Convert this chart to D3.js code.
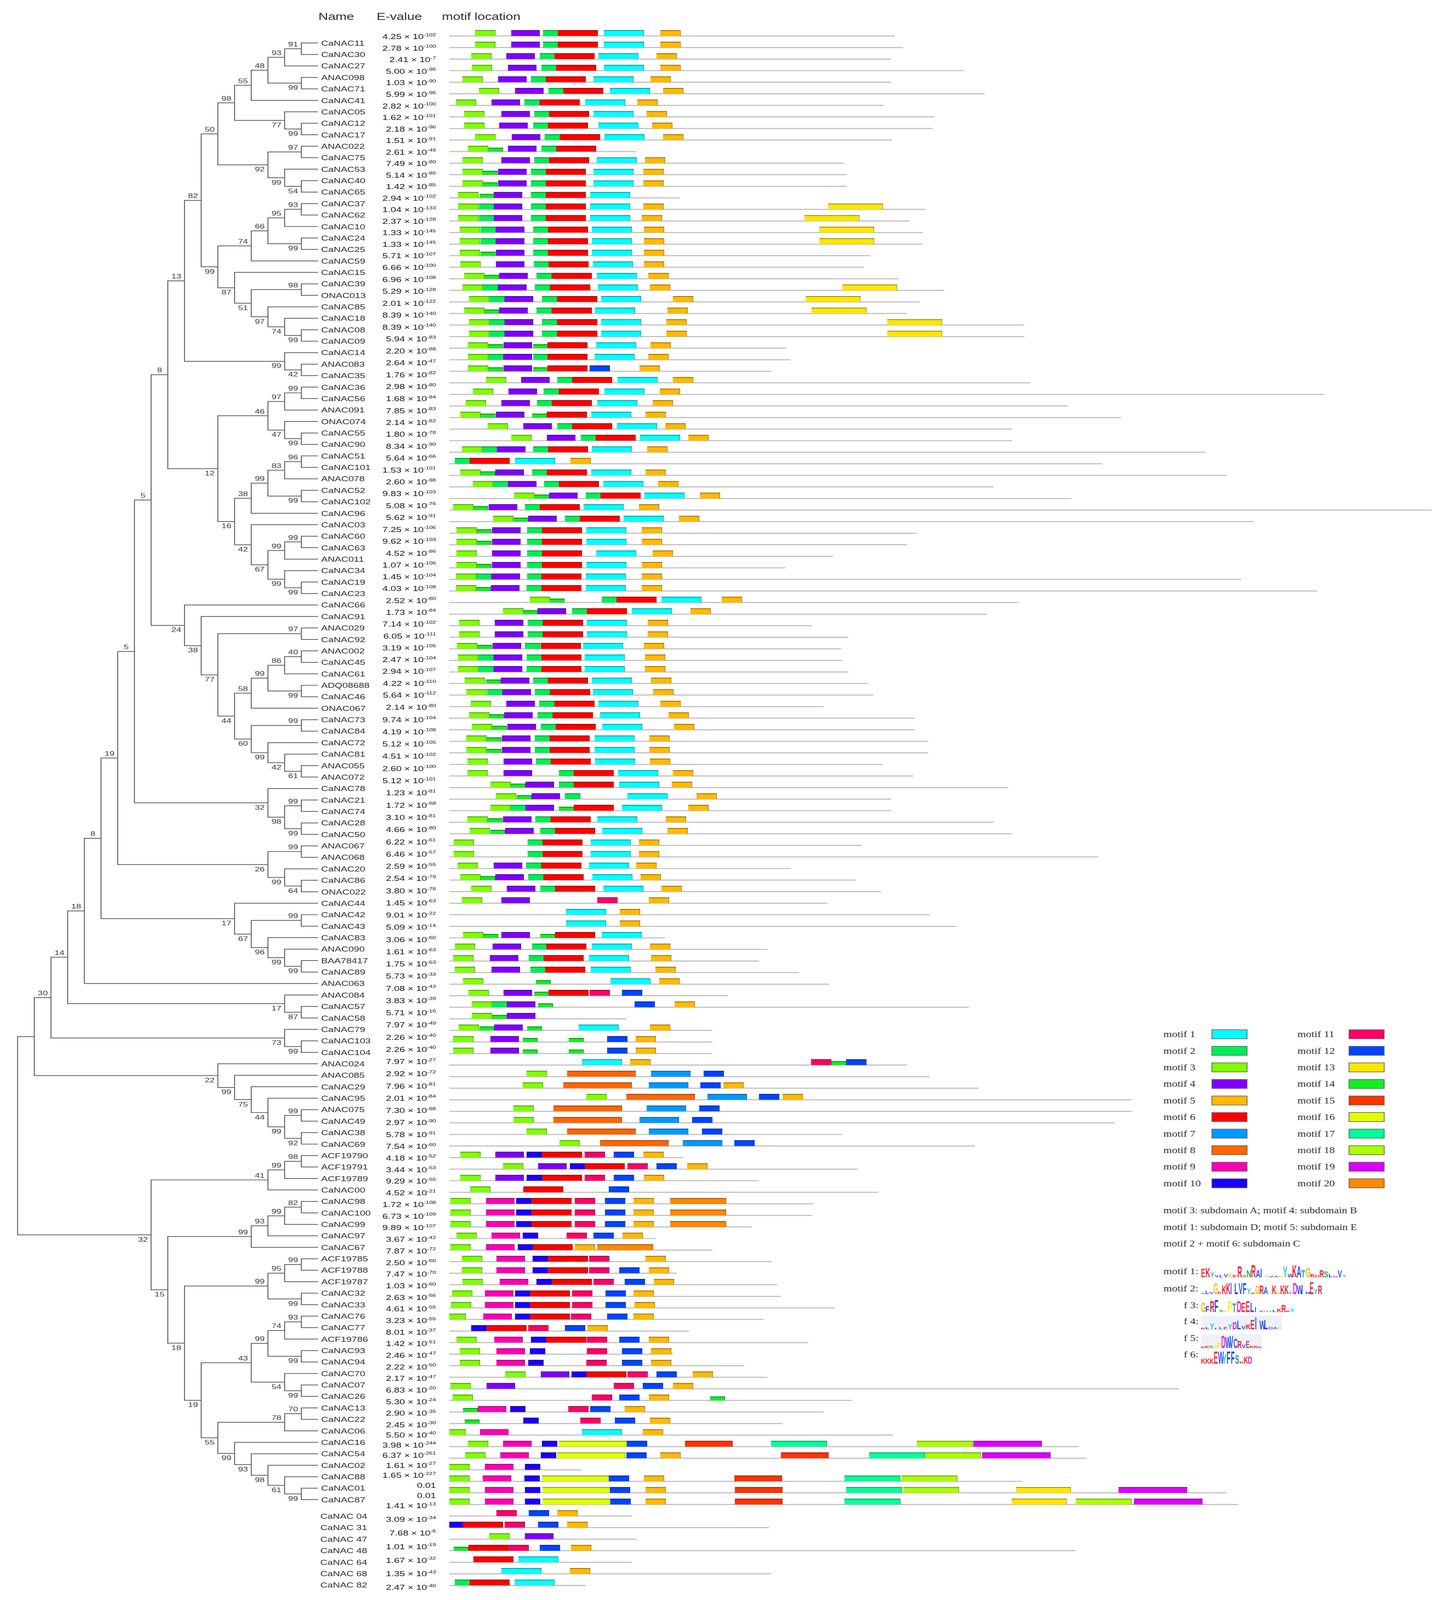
<!DOCTYPE html>
<html><head><meta charset="utf-8">
<style>html,body{margin:0;padding:0;background:#fff;overflow:hidden}svg{display:block}</style>
<script src="https://cdn.jsdelivr.net/npm/d3@7/dist/d3.min.js"></script>
</head><body><svg id="c"></svg>
<script>
// ---------- DATA ----------
const rowNames = ["CaNAC11","CaNAC30","CaNAC27","ANAC098","CaNAC71","CaNAC41","CaNAC05","CaNAC12","CaNAC17","ANAC022","CaNAC75","CaNAC53","CaNAC40","CaNAC65","CaNAC37","CaNAC62","CaNAC10","CaNAC24","CaNAC25","CaNAC59","CaNAC15","CaNAC39","ONAC013","CaNAC85","CaNAC18","CaNAC08","CaNAC09","CaNAC14","ANAC083","CaNAC35","CaNAC36","CaNAC56","ANAC091","ONAC074","CaNAC55","CaNAC90","CaNAC51","CaNAC101","ANAC078","CaNAC52","CaNAC102","CaNAC96","CaNAC03","CaNAC60","CaNAC63","ANAC011","CaNAC34","CaNAC19","CaNAC23","CaNAC66","CaNAC91","ANAC029","CaNAC92","ANAC002","CaNAC45","CaNAC61","ADQ08688","CaNAC46","ONAC067","CaNAC73","CaNAC84","CaNAC72","CaNAC81","ANAC055","ANAC072","CaNAC78","CaNAC21","CaNAC74","CaNAC28","CaNAC50","ANAC067","ANAC068","CaNAC20","CaNAC86","ONAC022","CaNAC44","CaNAC42","CaNAC43","CaNAC83","ANAC090","BAA78417","CaNAC89","ANAC063","ANAC084","CaNAC57","CaNAC58","CaNAC79","CaNAC103","CaNAC104","ANAC024","ANAC085","CaNAC29","CaNAC95","ANAC075","CaNAC49","CaNAC38","CaNAC69","ACF19790","ACF19791","ACF19789","CaNAC00","CaNAC98","CaNAC100","CaNAC99","CaNAC97","CaNAC67","ACF19785","ACF19788","ACF19787","CaNAC32","CaNAC33","CaNAC76","CaNAC77","ACF19786","CaNAC93","CaNAC94","CaNAC70","CaNAC07","CaNAC26","CaNAC13","CaNAC22","CaNAC06","CaNAC16","CaNAC54","CaNAC02","CaNAC88","CaNAC01","CaNAC87","CaNAC 04","CaNAC 31","CaNAC 47","CaNAC 48","CaNAC 64","CaNAC 68","CaNAC 82"];
const untreedNames = rowNames.slice(128);

const lineLengths = [813,828,806,939,806,977,792,885,882,808,340,720,725,725,420,869,840,864,864,768,756,820,903,858,835,1049,1049,615,623,588,1060,1596,1128,1225,1027,1027,1380,1191,1418,993,1135,1792,1468,853,835,700,613,1445,1583,1038,981,662,728,715,717,728,763,774,683,849,849,874,874,790,846,1020,806,806,993,1027,752,1184,623,742,788,690,876,925,393,580,565,637,693,508,948,323,480,480,480,835,876,966,1245,1245,1214,717,959,427,745,565,783,665,662,552,377,480,588,415,598,605,703,573,437,655,408,538,580,1331,734,683,608,809,1148,1162,241,1046,1418,1439,334,583,342,1143,333,587,249];

// motif id -> length and colour
const motifLengths = [0,73,28,37,52,37,73,72,125,52,28,37,37,100,27,87,124,102,102,125,102];
const motifColors = [null,"#00FFFF","#00EE55","#7FFF00","#8000FF","#FFB900","#FF0000","#0099FF","#FF6600","#FF00B4","#1A00FF","#FF0066","#0044FF","#FFE600","#11EE22","#FF3300","#DFFF00","#00FF99","#AAFF00","#DD00FF","#FF8800"];

// per row: [motif id, start, optional length]
const motifHits = [
[[3,47],[4,113],[2,171],[6,198],[1,282],[5,385]],
[[3,47],[4,113],[2,171],[6,198],[1,282],[5,385]],
[[3,40],[4,104],[2,165],[6,192],[1,272],[5,378]],
[[3,41],[4,107],[2,168],[6,195],[1,282],[5,385]],
[[3,24],[4,89],[2,149],[6,176],[1,263],[5,367]],
[[3,54],[4,120],[2,181],[6,208],[1,293],[5,390]],
[[3,12],[4,77],[2,137],[6,165],[1,248],[5,343]],
[[3,27],[4,95],[2,155],[6,182],[1,263],[5,360]],
[[3,27],[4,91],[2,153],[6,180],[1,272],[5,370]],
[[3,47],[4,114],[2,174],[6,202],[1,283],[5,390]],
[[3,34],[14,71],[4,107],[2,168],[6,195]],
[[3,24],[4,95],[2,155],[6,182],[1,269],[5,357]],
[[3,24],[14,61],[4,89],[2,149],[6,176],[1,263],[5,354]],
[[3,24],[14,61],[4,89],[2,149],[6,176],[1,263],[5,354]],
[[3,16],[14,55],[4,81],[2,149],[6,176],[1,257]],
[[3,16],[2,54],[4,81],[2,149],[6,176],[1,257],[5,354],[13,691]],
[[3,16],[2,54],[4,81],[2,149],[6,176],[1,257],[5,351],[13,648]],
[[3,19],[2,57],[4,85],[2,153],[6,180],[1,260],[5,355],[13,675]],
[[3,19],[2,57],[4,85],[2,153],[6,180],[1,260],[5,355],[13,675]],
[[3,19],[14,57],[4,85],[2,153],[6,180],[1,260],[5,355]],
[[3,20],[4,85],[2,154],[6,181],[1,262],[5,355]],
[[3,27],[14,64],[4,91],[2,159],[6,187],[1,269],[5,363]],
[[3,24],[2,61],[4,89],[2,156],[6,184],[1,271],[5,366],[13,717]],
[[3,36],[2,73],[4,101],[2,169],[6,197],[1,277],[5,408],[13,650]],
[[3,27],[14,64],[4,91],[2,159],[6,187],[1,266],[5,398],[13,661]],
[[3,36],[2,73],[4,101],[2,169],[6,197],[1,277],[5,396],[13,799]],
[[3,36],[2,73],[4,101],[2,169],[6,197],[1,277],[5,396],[13,799]],
[[3,34],[14,71],[4,99],[14,153],[6,179],[1,268],[5,367]],
[[3,34],[2,71],[4,99],[2,153],[6,179],[1,265],[5,363]],
[[3,34],[14,71],[4,99],[14,153],[6,179],[12,256],[5,347]],
[[3,67],[4,131],[2,197],[6,224],[1,307],[5,408]],
[[3,43],[4,108],[2,172],[6,200],[1,283],[5,384]],
[[3,30],[4,95],[2,160],[6,187],[1,270],[5,371]],
[[3,20],[14,57],[4,85],[14,151],[6,178],[1,259],[5,358]],
[[3,70],[4,135],[2,197],[6,224],[1,306],[5,394]],
[[3,113],[4,178],[2,240],[6,267],[1,348],[5,436]],
[[3,23],[2,60],[4,87],[2,153],[6,180],[1,260],[5,361]],
[[2,10],[6,37],[1,120],[5,221]],
[[3,20],[14,57],[4,84],[2,151],[6,178],[1,259],[5,358]],
[[3,43],[2,80],[4,107],[2,173],[6,200],[1,281],[5,381]],
[[3,118],[14,155],[4,182],[2,249],[6,276],[1,356],[5,457]],
[[3,7],[14,44],[4,72],[2,138],[6,165],[1,245],[5,346]],
[[3,80],[14,117],[4,144],[2,211],[6,238],[1,318],[5,419]],
[[3,13],[14,50],[4,78],[2,142],[6,169],[1,250],[5,351]],
[[3,13],[14,50],[4,78],[2,142],[6,169],[1,250],[5,351]],
[[3,13],[4,78],[2,142],[6,169],[1,268],[5,371]],
[[3,13],[14,50],[4,78],[2,142],[6,169],[1,250],[5,351]],
[[3,12],[2,49],[4,77],[2,142],[6,168],[1,249],[5,351]],
[[3,12],[14,49],[4,76],[2,141],[6,168],[1,249],[5,351]],
[[3,147],[14,183],[2,278],[6,305],[1,387],[5,497]],
[[3,98],[14,134],[4,161],[2,224],[6,251],[1,333],[5,440]],
[[3,18],[4,83],[2,143],[6,171],[1,251],[5,362]],
[[3,18],[4,83],[2,143],[6,171],[1,251],[5,362]],
[[3,14],[14,51],[4,79],[2,138],[6,167],[1,244],[5,355]],
[[3,16],[2,53],[4,81],[2,141],[6,168],[1,247],[5,357]],
[[3,16],[2,53],[4,81],[2,141],[6,168],[1,247],[5,357]],
[[3,28],[14,67],[4,94],[2,153],[6,180],[1,260],[5,368]],
[[3,31],[2,69],[4,97],[2,156],[6,184],[1,262],[5,372]],
[[3,39],[4,104],[2,164],[6,192],[1,272],[5,385]],
[[3,36],[14,73],[4,100],[2,161],[6,189],[1,275],[5,400]],
[[3,41],[14,78],[4,106],[2,167],[6,194],[1,279],[5,410]],
[[3,31],[14,68],[4,96],[2,156],[6,183],[1,265],[5,365]],
[[3,31],[14,68],[4,96],[2,156],[6,183],[1,265],[5,365]],
[[3,33],[4,99],[2,158],[6,185],[1,266],[5,366]],
[[3,33],[4,99],[2,200],[6,227],[1,308],[5,408]],
[[3,75],[14,112],[4,139],[2,200],[6,227],[1,310],[5,406]],
[[3,85],[14,123],[4,150],[2,211],[1,325],[5,451]],
[[3,75],[2,112],[4,139],[14,200],[6,227],[1,315],[5,436]],
[[3,33],[14,70],[4,98],[2,157],[6,185],[1,270],[5,395]],
[[3,37],[14,75],[4,102],[2,166],[6,193],[1,279],[5,398]],
[[3,8],[2,143],[6,170],[1,258],[5,346]],
[[3,8],[2,143],[6,170],[1,258],[5,346]],
[[3,15],[4,81],[2,140],[6,168],[1,255],[5,341]],
[[3,20],[14,57],[4,84],[2,144],[6,172],[1,261],[5,349]],
[[3,40],[4,105],[2,166],[6,193],[1,281],[5,387]],
[[3,23],[4,95],[11,270],[5,364]],
[[1,213],[5,311]],
[[1,213],[5,311]],
[[3,25],[14,62],[4,95],[14,166],[6,193],[1,278]],
[[3,10],[4,79],[2,151],[6,177],[1,260],[5,366]],
[[3,7],[4,74],[2,145],[6,172],[1,255],[5,368]],
[[3,10],[4,77],[2,148],[6,175],[1,258],[5,376]],
[[3,25],[14,158],[1,294],[5,383]],
[[3,35],[4,99],[14,155],[6,181],[11,256],[12,315]],
[[3,41],[2,78],[4,105],[14,162],[12,338],[5,411]],
[[3,41],[14,78],[4,105]],
[[3,17],[14,55],[4,82],[14,142],[1,236],[5,366]],
[[3,7],[4,75],[14,134],[14,218],[12,288],[5,340]],
[[3,7],[4,75],[14,134],[14,218],[12,288],[5,340]],
[[1,242],[5,330],[11,660],[14,697],[12,724]],
[[3,141],[8,215],[7,368],[12,464]],
[[3,134],[8,208],[7,364],[12,458],[5,500]],
[[3,250],[8,323],[7,471],[12,565],[5,608]],
[[3,117],[8,190],[7,360],[12,456]],
[[3,117],[8,190],[7,347],[12,443]],
[[3,141],[8,215],[7,364],[12,461]],
[[3,201],[8,275],[7,426],[12,520]],
[[3,20],[4,84],[10,141],[6,169],[11,247],[12,300],[5,354]],
[[3,98],[4,162],[10,220],[6,247],[11,325],[12,378],[5,434]],
[[3,20],[4,84],[10,141],[6,169],[11,247],[12,300],[5,355]],
[[3,38],[6,135],[12,291]],
[[3,2],[9,67],[10,122],[6,150],[11,229],[12,284],[5,336],[20,403]],
[[3,2],[9,67],[10,122],[6,150],[11,229],[12,284],[5,336],[20,403]],
[[3,2],[9,67],[10,122],[6,150],[11,229],[12,284],[5,336],[20,403]],
[[3,13],[9,77],[10,134],[11,214],[12,263],[5,316]],
[[3,2],[9,67],[10,125],[6,152],[5,229],[20,270]],
[[3,23],[9,86],[10,152],[6,180],[11,255],[5,358]],
[[3,23],[9,86],[10,152],[6,180],[11,255],[12,310],[5,364]],
[[3,24],[9,92],[10,159],[6,187],[11,263],[12,320],[5,373]],
[[3,5],[9,65],[10,120],[6,147],[11,224],[12,285],[5,336]],
[[3,3],[9,65],[10,120],[6,147],[11,224],[12,285],[5,338]],
[[3,0,30],[9,62],[10,120],[6,147],[11,222],[12,288],[5,336]],
[[10,40],[6,68],[11,144],[12,211],[5,252]],
[[3,13],[9,82],[10,149],[6,177],[11,251],[12,310],[5,364]],
[[3,19],[9,86],[10,147],[11,251],[12,315],[5,368]],
[[3,19],[9,86],[10,144],[11,250],[12,315],[5,368]],
[[3,102],[4,167],[10,223],[6,250],[11,325],[12,378],[5,444]],
[[3,2],[4,68],[11,300],[12,353],[5,408]],
[[3,6],[11,260],[12,310],[5,364],[14,476]],
[[14,25],[9,52],[10,111],[11,217],[12,257],[5,320]],
[[14,28],[10,135],[11,239],[12,302],[5,366]],
[[3,0,30],[9,56],[1,242],[5,353]],
[[3,34],[9,98],[10,169],[16,200],[12,324],[15,430],[17,587],[18,853],[19,956]],
[[3,29],[9,93],[10,167],[16,197],[12,323],[5,385],[15,605],[17,766],[18,868],[19,972]],
[[3,0],[9,65],[10,138]],
[[3,0],[9,61],[10,137],[16,169],[12,291],[5,355],[15,520],[17,721],[18,825]],
[[3,0],[9,65],[10,138],[16,170],[12,293],[5,358],[15,521],[17,724],[18,828],[13,1034],[19,1221]],
[[3,0],[9,65],[10,138],[16,170],[12,294],[5,358],[15,521],[17,721],[13,1026],[18,1143],[19,1249]],
[[11,86],[12,145],[5,197]],
[[10,0],[6,25],[11,101],[12,162],[5,215]],
[[3,73],[4,138]],
[[14,8],[6,35],[11,108],[12,165],[5,222]],
[[6,44],[1,126]],
[[1,95],[5,220]],
[[2,10],[6,37],[1,119]]
];

// E-value column (shorter than the name column in the source figure)
const eMantissa = ["4.25","2.78","2.41","5.00","1.03","5.99","2.82","1.62","2.18","1.51","2.61","7.49","5.14","1.42","2.94","1.04","2.37","1.33","1.33","5.71","6.66","6.96","5.29","2.01","8.39","8.39","5.94","2.20","2.64","1.76","2.98","1.68","7.85","2.14","1.80","8.34","5.64","1.53","2.60","9.83","5.08","5.62","7.25","9.62","4.52","1.07","1.45","4.03","2.52","1.73","7.14","6.05","3.19","2.47","2.94","4.22","5.64","2.14","9.74","4.19","5.12","4.51","2.60","5.12","1.23","1.72","3.10","4.66","6.22","6.46","2.59","2.54","3.80","1.45","9.01","5.09","3.06","1.61","1.75","5.73","7.08","3.83","5.71","7.97","2.26","2.26","7.97","2.92","7.96","2.01","7.30","2.97","5.78","7.54","4.18","3.44","9.29","4.52","1.72","6.73","9.89","3.67","7.87","2.50","7.47","1.03","2.63","4.61","3.23","8.01","1.42","2.46","2.22","2.17","6.83","5.30","2.90","2.45","5.50","3.98","6.37","1.61","1.65","0.01","0.01","1.41","3.09","7.68","1.01","1.67","1.35","2.47"];
const eExponent = [-102,-100,-7,-96,-90,-96,-100,-101,-96,-91,-49,-80,-85,-85,-102,-133,-128,-145,-145,-107,-100,-108,-128,-122,-140,-140,-83,-88,-47,-82,-80,-84,-83,-82,-78,-90,-66,-101,-98,-103,-76,-91,-106,-103,-86,-106,-104,-108,-80,-84,-102,-111,-105,-104,-107,-110,-112,-80,-104,-108,-105,-102,-100,-101,-81,-68,-81,-80,-61,-57,-55,-79,-78,-63,-22,-14,-60,-63,-63,-33,-43,-39,-16,-49,-40,-40,-27,-72,-81,-84,-88,-90,-91,-60,-52,-53,-55,-21,-108,-109,-107,-42,-72,-60,-70,-60,-56,-55,-55,-37,-51,-47,-50,-47,-20,-24,-35,-30,-40,-244,-261,-27,-227,null,null,-13,-34,-6,-19,-32,-43,-40];

// Tree in Newick form: internal labels are bootstrap values
const cladeA = "((((((CaNAC11,CaNAC30)91,CaNAC27)93,(ANAC098,CaNAC71)99)48,CaNAC41)55,(CaNAC05,(CaNAC12,CaNAC17)99)77)98,((ANAC022,CaNAC75)97,(CaNAC53,(CaNAC40,CaNAC65)54)99)92)50";
const cladeB = "(((((CaNAC37,CaNAC62)93,CaNAC10)95,(CaNAC24,CaNAC25)99)66,CaNAC59)74,(CaNAC15,((CaNAC39,ONAC013)98,(CaNAC85,(CaNAC18,(CaNAC08,CaNAC09)99)74)97)51)87)99";
const cladeC = "(CaNAC14,(ANAC083,CaNAC35)42)99";
const cladeD = "((((CaNAC36,CaNAC56)99,ANAC091)97,(ONAC074,(CaNAC55,CaNAC90)99)47)46,(((((CaNAC51,CaNAC101)96,ANAC078)83,(CaNAC52,CaNAC102)99)99,CaNAC96)38,(CaNAC03,(((CaNAC60,CaNAC63)99,ANAC011)99,(CaNAC34,(CaNAC19,CaNAC23)99)99)67)42)16)12";
const cladeE = "(CaNAC66,(CaNAC91,((ANAC029,CaNAC92)97,(((((ANAC002,CaNAC45)40,CaNAC61)86,(ADQ08688,CaNAC46)99)99,ONAC067)58,((CaNAC73,CaNAC84)99,(CaNAC72,(CaNAC81,(ANAC055,ANAC072)61)42)99)60)44)77)38)24";
const cladeF = "(CaNAC78,((CaNAC21,CaNAC74)99,(CaNAC28,CaNAC50)99)98)32";
const cladeG = "((ANAC067,ANAC068)99,(CaNAC20,(CaNAC86,ONAC022)64)99)26";
const cladeH = "(CaNAC44,((CaNAC42,CaNAC43)99,(CaNAC83,(ANAC090,(BAA78417,CaNAC89)99)99)96)67)17";
const cladeI = "(ANAC084,(CaNAC57,CaNAC58)87)17";
const cladeJ = "(CaNAC79,(CaNAC103,CaNAC104)99)73";
const cladeK = "(ANAC024,(ANAC085,(CaNAC29,(CaNAC95,((ANAC075,CaNAC49)99,(CaNAC38,CaNAC69)92)99)44)75)99)22";
const cladeL = "(((ACF19790,ACF19791)98,ACF19789)99,CaNAC00)41";
const cladeM = "((((CaNAC98,CaNAC100)82,CaNAC99)99,CaNAC97)93,CaNAC67)99";
const cladeN = "(((ACF19785,ACF19788)99,ACF19787)95,(CaNAC32,CaNAC33)99)99";
const cladeO = "((((CaNAC76,CaNAC77)93,ACF19786)74,(CaNAC93,CaNAC94)99)99,(CaNAC70,(CaNAC07,CaNAC26)99)54)43";
const cladeP = "(((CaNAC13,CaNAC22)70,CaNAC06)78,(CaNAC16,(CaNAC54,(CaNAC02,(CaNAC88,(CaNAC01,CaNAC87)99)61)98)93)99)55";
const newick = `((((((((((((${cladeA},${cladeB})82,${cladeC})13,${cladeD})8,${cladeE})5,${cladeF})5,${cladeG})19,${cladeH})8,ANAC063)18,${cladeI})14,${cladeJ})30,${cladeK}),(${cladeL},(${cladeM},(${cladeN},(${cladeO},${cladeP})19)18)15)32)`;

// Legend
const legendLeft = [1,2,3,4,5,6,7,8,9,10];
const legendRight = [11,12,13,14,15,16,17,18,19,20];
const subdomainNotes = ["motif 3: subdomain A; motif 4: subdomain B","motif 1: subdomain D; motif 5: subdomain E","motif 2 + motif 6: subdomain C"];
const logoLabels = ["motif 1:","motif 2:","f 3:","f 4:","f 5:","f 6:"];
const logoLetters = ["EKYVLVGERSNRAIGVAGYWKATGKDRSLDVY","SLVGEKKILVFYKGRAPKGKKTDWIMEYR","GFRFSPPTDEELIVHYLKRKY","KLYLLEYDLVKEIWLDAP","KKSPPDWVCRVEKKK","KKKEWYFFSKKD"];
const logoHeights = [
[.7,.8,.4,.2,.2,.3,.3,.2,.9,.2,.6,1,.6,.7,.1,.1,.1,.1,.9,.3,1,.9,.6,.8,.3,.2,.6,.5,.3,.1,.6,.2],
[.1,.3,.2,.9,.2,.7,.9,.9,.9,.9,.9,.5,.1,.7,.7,.6,.1,.7,.2,.7,.7,.2,.9,.7,.8,.2,1,.4,.7],
[.8,.5,.9,1,.2,.1,.9,.7,.9,.8,.9,.8,.4,.1,.1,.1,.2,.3,.6,.1,.3],
[.1,.2,.5,.1,.2,.2,.4,.6,.7,.3,.4,.8,1,.7,.8,.2,.2,.2],
[.1,.2,.2,.2,.4,1,.9,1,.8,.6,.3,.6,.2,.2,.1],
[.4,.4,.4,1,1,.8,1,1,.7,.2,.6,.6]
];
const residueColors = {A:"#3355ee",C:"#3355ee",F:"#2244ff",I:"#3355ee",L:"#2244ff",V:"#3355ee",W:"#3355ee",M:"#3355ee",N:"#22aa55",Q:"#22aa55",S:"#22aa55",T:"#22aa88",D:"#ee22cc",E:"#ee3355",K:"#ee2233",R:"#ee2233",H:"#ee77aa",G:"#eec020",P:"#eeee22",Y:"#22cccc"};

// ---------- SCALES ----------
// the drawing is laid out on the reference's 3691x4938 frame and fitted to whatever window it gets
const svg = d3.select("#c")
  .attr("width", window.innerWidth).attr("height", window.innerHeight)
  .attr("viewBox", "0 0 3691 4938").attr("preserveAspectRatio", "none");
const FONT = "'Liberation Sans',Arial,sans-serif";
const SERIF = "'Liberation Serif','Times New Roman',serif";
const STRETCH = 1.14;
const rowY = d3.scalePoint().domain(rowNames).range([111, 4893]);
const posX = d3.scaleLinear().domain([0, 1800]).range([1150, 1150 + 1800 * 1.403]);
const heightX = d3.scaleLinear().domain([0, 18]).range([814, 45]);
const tipTop = 115, tipBottom = 4646;
const untreedY = d3.scalePoint().domain(untreedNames).range([4679, 4892]);
const evalueY = d3.scaleLinear()
  .domain([0,20,32,44,56,68,80,92,105,117,125,131])
  .range([113,825,1267,1707,2145,2598,3050,3502,3968,4397,4647,4899]);

function stretched(sel, x, y) { return sel.attr("transform", (d, i) => `translate(${x(d, i)},${y(d, i)}) scale(${STRETCH},1)`); }

// ---------- TREE ----------
function parseNewick(s) {
  let i = 0;
  function node() {
    const n = {};
    if (s[i] === "(") {
      n.children = [];
      i++;
      n.children.push(node());
      while (s[i] === ",") { i++; n.children.push(node()); }
      i++; // ')'
    }
    let t = "";
    while (i < s.length && !",()".includes(s[i])) t += s[i++];
    n.name = t;
    return n;
  }
  return node();
}
const root = d3.hierarchy(parseNewick(newick));
d3.cluster().separation(() => 1).size([tipBottom - tipTop, 1])(root);
root.each(d => { d.py = d.x + tipTop; d.px = heightX(d.height); });

const gTree = svg.append("g").attr("fill", "none").attr("stroke", "#5e5e5e").attr("stroke-width", 2.4);
gTree.selectAll("path").data(root.links()).join("path")
  .attr("d", l => `M${l.source.px},${l.source.py}V${l.target.py}H${l.target.px}`);

// bootstrap labels: above the stem for an upper child, below it for a lower child
const internal = root.descendants().filter(d => d.children && d.data.name && d.parent);
const gBoot = svg.append("g").attr("font-family", FONT).attr("font-size", 20).attr("fill", "#444").attr("text-anchor", "middle");
stretched(gBoot.selectAll("text").data(internal).join("text").text(d => d.data.name),
  d => d.px - 21,
  d => d.py + (d.parent.children[0] === d ? -7 : 21));

// tip names
const gNames = svg.append("g").attr("font-family", FONT).attr("font-size", 22).attr("fill", "#333");
stretched(gNames.selectAll("text.tip").data(root.leaves()).join("text").attr("class", "tip").text(d => d.data.name),
  () => 822, d => d.py + 8);
stretched(gNames.selectAll("text.free").data(untreedNames).join("text").attr("class", "free").text(d => d),
  () => 820, d => untreedY(d) + 8);

// ---------- HEADER ----------
const headers = [["Name",815],["E-value",964],["motif location",1131]];
stretched(svg.append("g").attr("font-family", FONT).attr("font-size", 30).attr("fill", "#333")
  .selectAll("text").data(headers).join("text").text(d => d[0]), d => d[1], () => 62);

// ---------- E-VALUES ----------
const gEval = svg.append("g").attr("font-family", FONT).attr("fill", "#222").attr("text-anchor", "end");
const evals = stretched(gEval.selectAll("text").data(eMantissa).join("text").attr("font-size", 22),
  () => 1116, (d, i) => evalueY(i) + 8);
evals.each(function (d, i) {
  const t = d3.select(this);
  if (eExponent[i] === null) { t.text(d); return; }
  t.append("tspan").text(`${d} × 10`);
  t.append("tspan").attr("font-size", 14).attr("dy", -9).text(eExponent[i]);
});

// ---------- MOTIF ROWS ----------
const BAR = 18;
const rows = svg.append("g").selectAll("g").data(rowNames).join("g")
  .attr("transform", d => `translate(0,${rowY(d)})`);
rows.append("line").attr("x1", posX(0)).attr("x2", (d, i) => posX(lineLengths[i]))
  .attr("stroke", "#b9b9b9").attr("stroke-width", 3);
const hits = rows.selectAll("g.hit").data((d, i) => motifHits[i]).join("g").attr("class", "hit");
const barH = h => h[0] === 14 ? BAR * 0.68 : BAR;
const hitW = h => posX(h[2] !== undefined ? h[2] : motifLengths[h[0]]) - posX(0);
hits.append("rect").attr("x", h => posX(h[1])).attr("y", h => -barH(h)).attr("width", hitW)
  .attr("height", barH).attr("fill", h => motifColors[h[0]]);
hits.append("rect").attr("x", h => posX(h[1])).attr("y", h => -barH(h)).attr("width", hitW)
  .attr("height", 2.5).attr("fill", "#000").attr("opacity", .4);
hits.append("rect").attr("x", h => posX(h[1]) + hitW(h) - 1).attr("y", h => -barH(h)).attr("width", 1)
  .attr("height", barH).attr("fill", "#000").attr("opacity", .5);

// ---------- LEGEND ----------
const legendY = d3.scaleLinear().domain([0, 9]).range([3192, 3652]);
function legendColumn(ids, textX, swX) {
  const g = svg.append("g").selectAll("g").data(ids).join("g")
    .attr("transform", (d, i) => `translate(0,${legendY(i)})`);
  g.append("text").attr("x", textX).attr("y", 9).attr("font-family", SERIF).attr("font-size", 28).attr("fill", "#333")
    .text(d => `motif ${d}`);
  g.append("rect").attr("x", swX).attr("y", -14).attr("width", 90).attr("height", 28)
    .attr("fill", d => motifColors[d]).attr("stroke", "#666").attr("stroke-width", 2);
}
legendColumn(legendLeft, 2978, 3102);
legendColumn(legendRight, 3321, 3453);

const noteY = d3.scaleLinear().domain([0, 2]).range([3745, 3847]);
svg.append("g").selectAll("text").data(subdomainNotes).join("text")
  .attr("x", 2978).attr("y", (d, i) => noteY(i))
  .attr("font-family", SERIF).attr("font-size", 27.5).attr("fill", "#333").text(d => d);

// ---------- LOGOS ----------
const logoTextY = [3933, 3986, 4038, 4087, 4139, 4189];
const logoLabelX = [2978, 2978, 3030, 3030, 3030, 3030];
const logoRight = [3447, 3384, 3314, 3281, 3230, 3205];
const logoBase = [3942, 3994, 4049, 4102, 4160, 4209];
const LOGO_H = 38;
logoLabels.forEach((lab, k) => {
  svg.append("text").attr("x", logoLabelX[k]).attr("y", logoTextY[k]).attr("font-family", SERIF)
    .attr("font-size", 28).attr("fill", "#333").text(lab);
  const letters = logoLetters[k].split("");
  const band = d3.scaleBand().domain(d3.range(letters.length)).range([3074, logoRight[k]]);
  if (k === 3 || k === 4) {
    svg.append("rect").attr("x", 3074).attr("y", logoBase[k] - LOGO_H - 4).attr("width", logoRight[k] - 3074)
      .attr("height", LOGO_H + 6).attr("fill", "#eef2f8");
  }
  svg.append("g").selectAll("text").data(letters).join("text")
    .attr("font-family", FONT).attr("font-weight", "bold").attr("font-size", 52)
    .attr("fill", c => residueColors[c])
    .attr("transform", (c, i) => `translate(${band(i)},${logoBase[k]}) scale(${band.bandwidth() / 36},${logoHeights[k][i] * LOGO_H / 37})`)
    .text(c => c);
});
</script></body></html>
